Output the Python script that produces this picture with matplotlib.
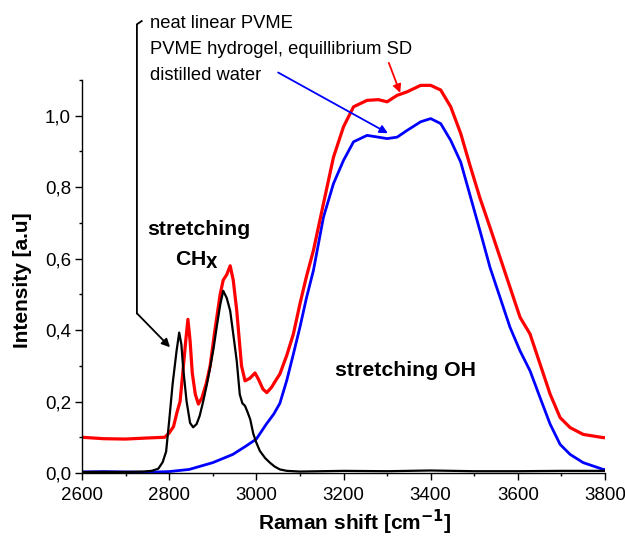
import matplotlib
matplotlib.use("Agg")
import matplotlib.pyplot as plt
from matplotlib.ticker import MultipleLocator, FuncFormatter

plt.rcParams['font.family'] = ['Liberation Sans', 'DejaVu Sans']

# --- data ---
pvme_x = [2600, 2650, 2700, 2740, 2760, 2775, 2785, 2793, 2800, 2808, 2817, 2823, 2828, 2832,
          2840, 2848, 2855, 2863, 2870, 2878, 2886, 2894, 2902, 2909, 2917, 2924, 2932, 2940,
          2948, 2955, 2962, 2968, 2974, 2980, 2986, 2993, 3000, 3008, 3020, 3031, 3042, 3054,
          3070, 3100, 3200, 3300, 3400, 3500, 3600, 3700, 3800]
pvme_y = [0.003, 0.003, 0.003, 0.004, 0.006, 0.012, 0.03, 0.06, 0.146, 0.25, 0.342, 0.393, 0.36, 0.295,
          0.20, 0.14, 0.128, 0.137, 0.16, 0.20, 0.245, 0.295, 0.35, 0.408, 0.47, 0.51, 0.49, 0.454,
          0.38, 0.314, 0.22, 0.195, 0.188, 0.17, 0.15, 0.11, 0.085, 0.062, 0.042, 0.029, 0.018, 0.01,
          0.006, 0.004, 0.006, 0.005, 0.007, 0.005, 0.005, 0.006, 0.006]

gel_x = [2600, 2650, 2700, 2750, 2790, 2800, 2810, 2818, 2825, 2832, 2838, 2843, 2848, 2853, 2860,
         2867, 2875, 2885, 2894, 2905, 2917, 2924, 2932, 2940, 2947, 2955, 2966, 2974, 2985, 2997,
         3005, 3015, 3024, 3035, 3045, 3054, 3070, 3085, 3100, 3115, 3131, 3154, 3177, 3200, 3223,
         3254, 3280, 3300, 3323, 3346, 3377, 3400, 3423, 3446, 3469, 3490, 3513, 3536, 3559, 3582,
         3605, 3628, 3651, 3674, 3697, 3720, 3750, 3796, 3800]
gel_y = [0.100, 0.096, 0.095, 0.098, 0.100, 0.112, 0.13, 0.17, 0.20, 0.29, 0.37, 0.43, 0.37, 0.28, 0.22,
         0.193, 0.21, 0.25, 0.30, 0.40, 0.50, 0.54, 0.555, 0.58, 0.54, 0.455, 0.30, 0.258, 0.265, 0.28,
         0.262, 0.235, 0.225, 0.24, 0.26, 0.277, 0.33, 0.389, 0.473, 0.55, 0.623, 0.754, 0.884, 0.969, 1.025,
         1.043, 1.045, 1.039, 1.057, 1.067, 1.085, 1.085, 1.072, 1.025, 0.95, 0.862, 0.77, 0.688, 0.604, 0.52,
         0.436, 0.389, 0.305, 0.221, 0.155, 0.127, 0.108, 0.099, 0.099]

water_x = [2600, 2650, 2700, 2750, 2800, 2846, 2900, 2946, 2977, 3000, 3023, 3040, 3054, 3070, 3085,
           3100, 3115, 3131, 3154, 3177, 3200, 3223, 3254, 3280, 3300, 3323, 3346, 3377, 3400, 3423,
           3446, 3469, 3492, 3515, 3536, 3559, 3582, 3605, 3628, 3651, 3674, 3697, 3720, 3750, 3796, 3800]
water_y = [0.003, 0.004, 0.003, 0.002, 0.004, 0.01, 0.029, 0.052, 0.076, 0.095, 0.137, 0.165, 0.195, 0.26, 0.333,
           0.408, 0.49, 0.567, 0.716, 0.81, 0.875, 0.927, 0.945, 0.94, 0.936, 0.94, 0.959, 0.983, 0.992, 0.978,
           0.931, 0.87, 0.77, 0.67, 0.576, 0.492, 0.408, 0.342, 0.286, 0.211, 0.137, 0.08, 0.052, 0.029, 0.01, 0.01]

labels = ["neat linear PVME", "PVME hydrogel, equillibrium SD", "distilled water"]

W, H = 625, 536
fig = plt.figure(figsize=(W / 100, H / 100), dpi=100)
ax = fig.add_axes([82 / W, 1 - 473 / H, (605 - 82) / W, (473 - 80) / H])

ax.plot(water_x, water_y, color='#0000ff', lw=2.0)
ax.plot(gel_x, gel_y, color='#ff0000', lw=2.3)
ax.plot(pvme_x, pvme_y, color='black', lw=1.6)

ax.set_xlim(2600, 3800)
ax.set_ylim(0, 1.1)
ax.xaxis.set_major_locator(MultipleLocator(200))
ax.xaxis.set_minor_locator(MultipleLocator(100))
ax.yaxis.set_major_locator(MultipleLocator(0.2))
ax.yaxis.set_minor_locator(MultipleLocator(0.1))
ax.yaxis.set_major_formatter(FuncFormatter(lambda v, p: f"{v:.1f}".replace('.', ',')))
for s in ['top', 'right']:
    ax.spines[s].set_visible(False)
for s in ['left', 'bottom']:
    ax.spines[s].set_linewidth(1.0)
ax.tick_params(which='major', direction='out', length=5, width=1.0, labelsize=13.5, pad=3)
ax.tick_params(axis='x', which='major', pad=5)
ax.tick_params(which='minor', direction='out', length=2.5, width=1.0)

ax.set_xlabel("Raman shift [cm$^{\\mathbf{-1}}$]", fontsize=15, fontweight='bold')
ax.set_ylabel("Intensity [a.u]", fontsize=15, fontweight='bold')
ax.xaxis.set_label_coords((355 - 82) / 523, (473 - 508) / 393)
ax.yaxis.set_label_coords((32 - 82) / 523, 0.49)

# legend-like text labels
for i, t in enumerate(labels):
    fig.text(150 / W, 1 - (27.5 + 26 * i) / H, t, fontsize=13.2, ha='left', va='baseline')

# black bracket + arrow to PVME
ax.plot([2737, 2726, 2726], [1.265, 1.256, 0.447], color='black', lw=1.3, clip_on=False)
ax.annotate("", xy=(2802, 0.352), xytext=(2726, 0.447),
            arrowprops=dict(arrowstyle='-|>', color='black', lw=1.3, mutation_scale=12,
                            shrinkA=0, shrinkB=0), annotation_clip=False)
# red arrow
ax.annotate("", xy=(3330, 1.064), xytext=(3304, 1.148),
            arrowprops=dict(arrowstyle='-|>', color='#ff0000', lw=1.3, mutation_scale=12,
                            shrinkA=0, shrinkB=0), annotation_clip=False)
# blue arrow
ax.annotate("", xy=(3302, 0.951), xytext=(3050, 1.121),
            arrowprops=dict(arrowstyle='-|>', color='#0000ff', lw=1.3, mutation_scale=12,
                            shrinkA=0, shrinkB=0), annotation_clip=False)

ax.text(2868, 0.682, "stretching", fontsize=15.3, fontweight='bold', ha='center', va='center')
ax.text(2865, 0.595, "CH$_{\\mathbf{X}}$", fontsize=15.3, fontweight='bold', ha='center', va='center')
ax.text(3341, 0.288, "stretching OH", fontsize=15.3, fontweight='bold', ha='center', va='center')

fig.savefig("out.png", dpi=100)
